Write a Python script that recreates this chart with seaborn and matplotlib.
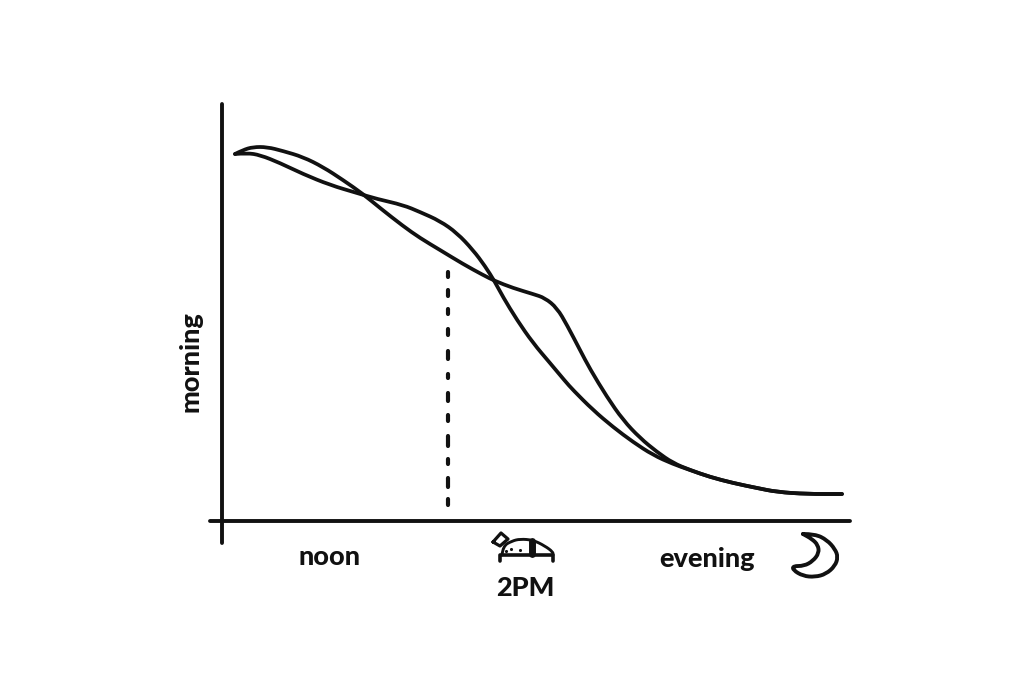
import numpy as np
import pandas as pd
import matplotlib
matplotlib.use('Agg')
import matplotlib.pyplot as plt
from matplotlib.path import Path
from matplotlib.patches import PathPatch
import seaborn as sns

# everything, in its own 1024x683 units
# a starts on top, dips under b at the first crossing and takes the bump after 2PM
curve_a_x = [235, 243, 253, 267, 283, 303, 323, 343, 363, 380, 403, 420, 440, 463, 483, 495, 513, 533, 545, 557, 567, 580, 590, 607, 623, 640, 657, 673, 690, 710, 733, 757, 777, 807, 842]
curve_a_y = [154, 150, 147, 147, 151, 157, 167, 180, 194, 208, 226, 238, 250, 264, 275, 281, 288, 294, 298, 308, 325, 350, 369, 397, 420, 438, 452, 463, 470, 477, 483, 488, 492, 494, 494]
curve_b_x = [235, 247, 260, 280, 303, 330, 357, 377, 403, 420, 440, 457, 473, 485, 495, 503, 517, 533, 550, 565, 573, 593, 613, 633, 653, 673, 690, 710, 733, 757, 777, 807, 842]
curve_b_y = [154, 153, 155, 163, 174, 185, 193, 199, 205, 212, 221, 233, 250, 266, 282, 297, 320, 343, 363, 381, 390, 410, 427, 442, 455, 464, 470, 477, 483, 488, 492, 494, 494]
nap_x = 448
nap_dash_top = [270, 288, 307, 327, 349, 372, 391, 413, 434, 457, 476, 497]
nap_dash_bottom = [279, 298, 316, 337, 361, 380, 403, 423, 448, 466, 489, 507]
x_axis_x = [210, 850]
x_axis_y = [521, 521]
y_axis_x = [222, 222]
y_axis_y = [104, 543]

moon_x = [803, 815, 827, 835, 838, 835, 826, 815, 803, 793, 793, 804, 813, 819, 818, 812, 803, 803]
moon_y = [534, 534, 540, 549, 557, 566, 574, 577, 576, 570, 566, 566, 561, 553, 545, 539, 534, 534]
bed_top_x = [502, 503, 512, 520, 533, 545, 553, 553]
bed_top_y = [555, 546, 541, 539, 540, 546, 552, 555]
bed_base_x = [500, 500, 553, 553]
bed_base_y = [561, 555, 555, 561]
pillow_x = [493, 501, 508, 500, 493]
pillow_y = [542, 533, 539, 546, 542]
blanket_x = [532, 532]
blanket_y = [541, 554]
dots_x = [506, 511, 520]
dots_y = [551, 549, 550]

labels = ['noon', '2PM', 'evening']
label_x = [330, 525, 707]
label_y = [557, 588, 559]
y_label = 'morning'

sns.set_theme(style='white')
plt.rcParams['font.family'] = ['Lato', 'DejaVu Sans']

fig = plt.figure(figsize=(10.24, 6.83), dpi=100)
ax = fig.add_axes([0, 0, 1, 1])
ink = '#111111'


def stroke(xs, ys, lw=2.6, round_off=False):
    df = pd.DataFrame({'x': xs, 'y': ys})
    sns.lineplot(data=df, x='x', y='y', ax=ax, sort=False, estimator=None, color=ink,
                 linewidth=lw, solid_capstyle='round', solid_joinstyle='round')
    if round_off:
        # same points, but let the renderer draw soft bends instead of corners
        line = ax.lines[-1]
        pts = line.get_xydata()
        verts = [pts[0]]
        codes = [Path.MOVETO]
        for i in range(1, len(pts) - 1):
            verts += [pts[i], (pts[i] + pts[i + 1]) / 2]
            codes += [Path.CURVE3, Path.CURVE3]
        verts.append(pts[-1])
        codes.append(Path.LINETO)
        line.remove()
        ax.add_patch(PathPatch(Path(verts, codes), fill=False, edgecolor=ink, linewidth=lw,
                               capstyle='round', joinstyle='round'))


stroke(curve_a_x, curve_a_y, lw=2.7, round_off=True)
stroke(curve_b_x, curve_b_y, lw=2.7, round_off=True)
stroke(x_axis_x, x_axis_y, lw=2.8)
stroke(y_axis_x, y_axis_y, lw=2.8)

for top, bottom in zip(nap_dash_top, nap_dash_bottom):
    stroke([nap_x, nap_x], [top + 2, bottom - 2], lw=3)

stroke(moon_x, moon_y, lw=2.8, round_off=True)
stroke(bed_top_x, bed_top_y, lw=2.1, round_off=True)
stroke(bed_base_x, bed_base_y, lw=2.6)
stroke(pillow_x, pillow_y, lw=2.3)
stroke(blanket_x, blanket_y, lw=5)
sns.scatterplot(x=dots_x, y=dots_y, ax=ax, color=ink, s=5, linewidth=0)

for t, x, y in zip(labels, label_x, label_y):
    ax.text(x, y, t, ha='center', va='center', fontsize=19.5, fontweight='black', color=ink)
ax.text(191, 362, y_label, rotation=90, ha='center', va='center', fontsize=19.5, fontweight='black', color=ink)

ax.set_xlim(0, 1024)
ax.set_ylim(683, 0)
ax.set_axis_off()

fig.savefig('out.png', dpi=100)
